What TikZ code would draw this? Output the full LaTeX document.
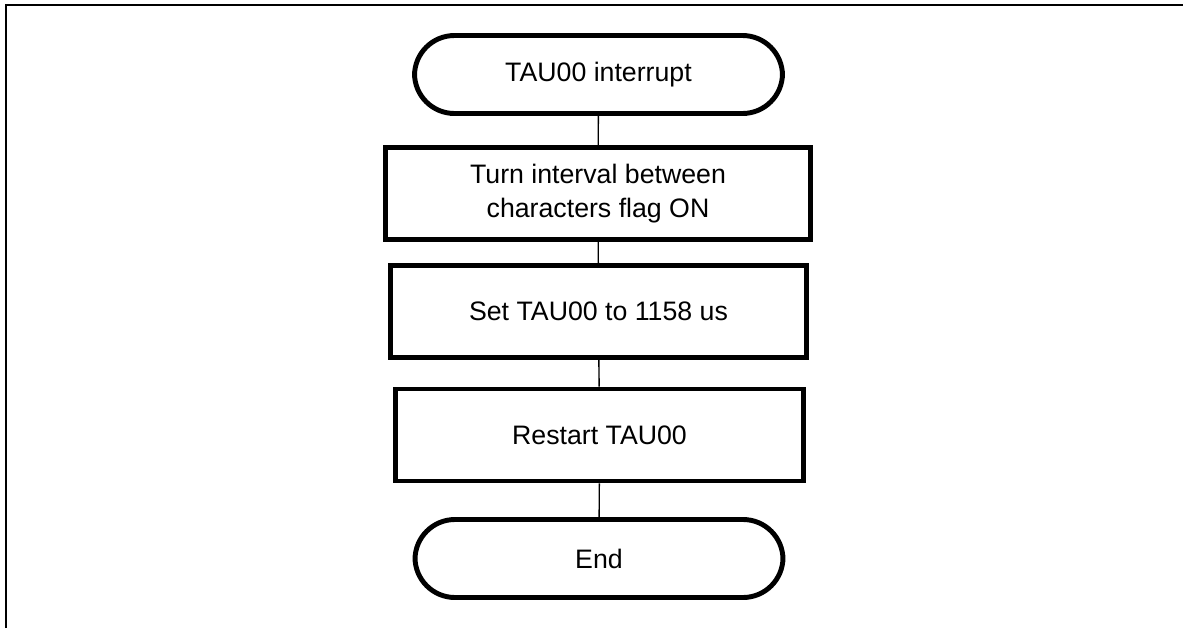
\documentclass[tikz,border=0pt]{standalone}
\usepackage{fontspec}
\setmainfont{Liberation Sans}
\usepackage{tikz}
\usetikzlibrary{positioning}

\tikzset{
  terminal/.style={draw, line width=1.4pt, rectangle, rounded corners=0.4cm,
    minimum width=3.68cm, minimum height=0.78cm, inner sep=0pt,
    font=\fontsize{7.6}{9}\selectfont},
  process/.style={draw, line width=1.4pt, rectangle,
    minimum height=0.92cm, inner sep=0pt, align=center,
    font=\fontsize{7.6}{9.5}\selectfont},
  link/.style={draw, line width=0.4pt}
}

\begin{document}
\begin{tikzpicture}

\useasboundingbox (0,0) rectangle (11.83,6.28);

% Frame
\draw[line width=0.6pt] (0.06,0) -- (0.06,6.23) -- (11.83,6.23);

% Start
\node[terminal] (start) at (5.985,5.535) {TAU00 interrupt};

% Steps
\node[process, minimum width=4.25cm] (flagon) at (5.98,4.345)
  {Turn interval between\\characters flag ON};
\node[process, minimum width=4.16cm] (settau) at (5.985,3.165)
  {Set TAU00 to 1158 us};
\node[process, minimum width=4.08cm] (restart) at (5.995,1.93)
  {Restart TAU00};

% End
\node[terminal] (finish) at (5.99,0.695) {End};

% Links
\draw[link] (start) -- (flagon);
\draw[link] (flagon) -- (settau);
\draw[link] (settau) -- (restart);
\draw[link] (restart) -- (finish);

\end{tikzpicture}
\end{document}
